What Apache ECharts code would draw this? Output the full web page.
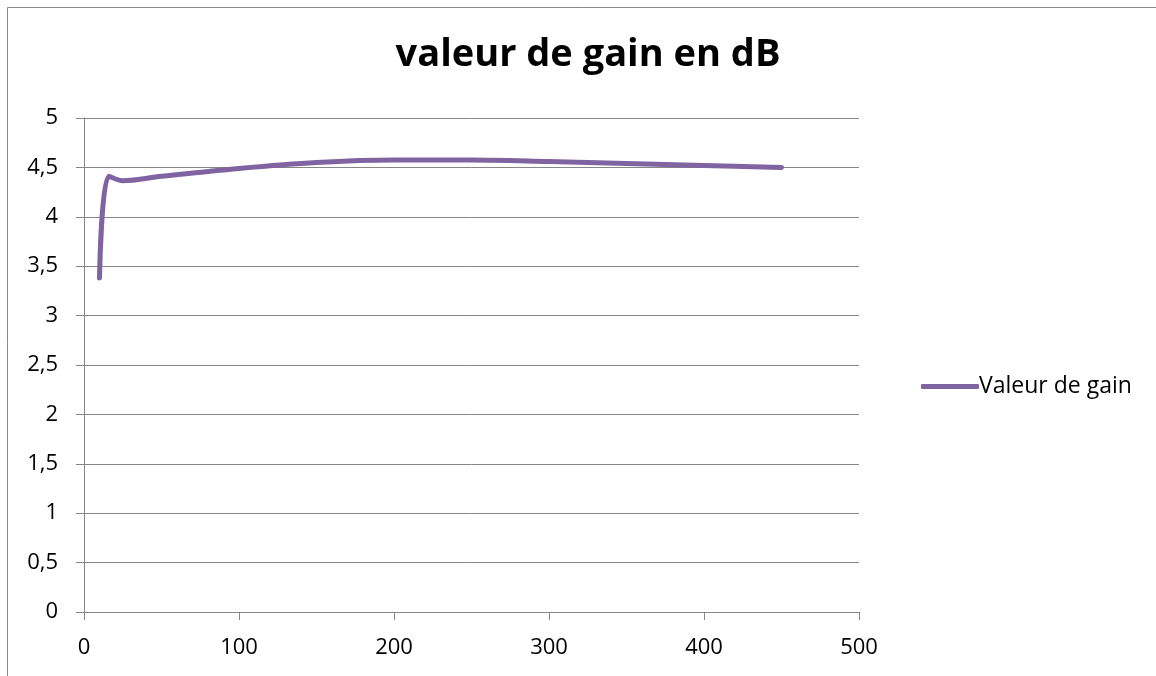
<!DOCTYPE html>
<html><head><meta charset="utf-8">
<script src="https://cdn.jsdelivr.net/npm/echarts@6/dist/echarts.min.js"></script>
<style>html,body{margin:0;padding:0;background:#fff}#c{width:1156px;height:676px}</style>
</head><body><div id="c"></div>
<script>
const titleText = 'valeur de gain en dB';
const seriesName = 'Valeur de gain';
const xValues = [10, 16, 25, 50, 100, 150, 200, 250, 300, 350, 400, 450];
const gainValues = [3.38, 4.41, 4.365, 4.41, 4.49, 4.55, 4.575, 4.575, 4.56, 4.54, 4.52, 4.50];
const xTicks = [0, 100, 200, 300, 400, 500];
const yTicks = [0, 0.5, 1, 1.5, 2, 2.5, 3, 3.5, 4, 4.5, 5];

const data = xValues.map((x, i) => [x, gainValues[i]]);
const chart = echarts.init(document.getElementById('c'));
const font = 'Open Sans, Noto Sans, sans-serif';
chart.setOption({
  animation: false,
  backgroundColor: '#fff',
  title: {
    text: titleText, left: 583, top: 31, textAlign: 'center',
    textStyle: {fontFamily: font, fontWeight: 'bold', fontSize: 38, color: '#000'}
  },
  graphic: [{type: 'rect', shape: {x: 7.5, y: 7.5, width: 1200, height: 700}, style: {fill: 'none', stroke: '#888', lineWidth: 1}, silent: true}],
  legend: {
    left: 916, top: 370, icon: 'roundRect', itemWidth: 58, itemHeight: 5, itemGap: 5,
    data: [seriesName],
    textStyle: {fontFamily: font, fontSize: 23, color: '#000', padding: [0,0,0,-5]}
  },
  grid: {left: 84, right: 297, top: 118, bottom: 64, containLabel: false},
  xAxis: {
    type: 'value', min: xTicks[0], max: xTicks[xTicks.length-1], interval: 100,
    axisLine: {show: true, lineStyle: {color: '#868686', width: 1}},
    axisTick: {show: true, length: 8, lineStyle: {color: '#868686'}},
    splitLine: {show: false},
    axisLabel: {fontFamily: font, fontSize: 22, color: '#000', margin: 25}
  },
  yAxis: {
    type: 'value', min: yTicks[0], max: yTicks[yTicks.length-1], interval: 0.5,
    axisLine: {show: true, lineStyle: {color: '#868686', width: 1}},
    axisTick: {show: true, length: 8, lineStyle: {color: '#868686'}},
    splitLine: {show: true, lineStyle: {color: '#868686', width: 1}},
    axisLabel: {fontFamily: font, fontSize: 22, color: '#000', margin: 26,
      formatter: v => String(v).replace('.', ',')}
  },
  series: [{
    name: seriesName, type: 'line', data: data, smooth: 0.35, symbol: 'none',
    lineStyle: {color: '#8064A2', width: 5, cap: 'round', join: 'round'},
    itemStyle: {color: '#8064A2'}
  }]
});
</script></body></html>
